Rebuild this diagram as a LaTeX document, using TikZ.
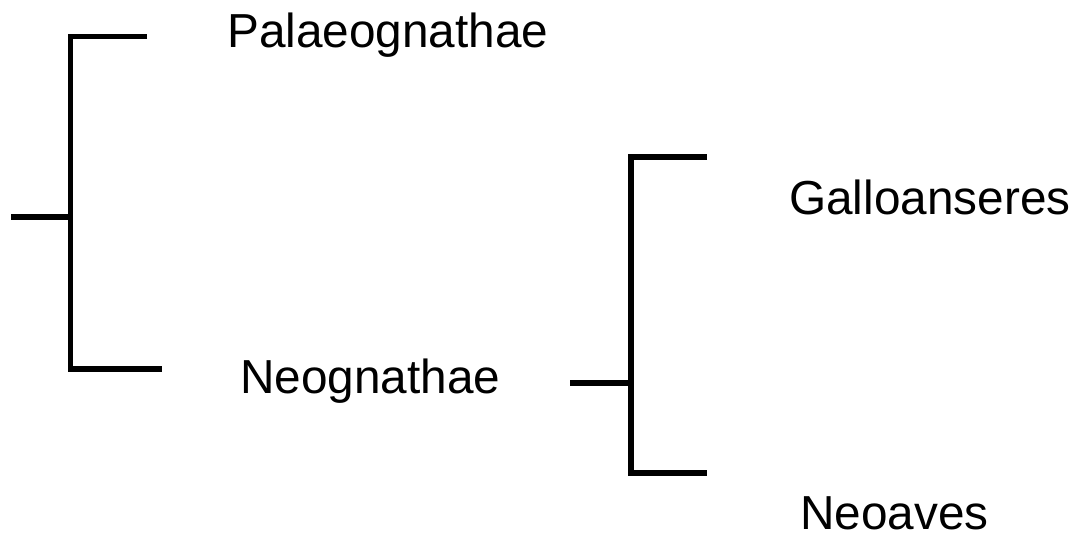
\documentclass[tikz,border=0pt]{standalone}
\usepackage{fontspec}
\setmainfont{Liberation Sans}
\begin{document}
\begin{tikzpicture}[x=0.75pt,y=-0.75pt,
  branch/.style={line width=3.8pt,line join=miter,line cap=butt},
  taxon/.style={anchor=base west,inner sep=0pt,font=\fontsize{35.8}{40}\selectfont}]
\useasboundingbox (0,0) rectangle (1075,536);
% labels
\node[taxon] (palaeo) at (227,47) {Palaeognathae};
\node[taxon] (neog) at (240,393) {Neognathae};
\node[taxon] (gallo) at (789,214) {Galloanseres};
\node[taxon] (neoaves) at (800,529) {Neoaves};
% left bracket
\coordinate (root) at (11,217);
\coordinate (rootj) at (70.5,217);
\coordinate (pt) at (147,36.5);
\coordinate (nt) at (162,369);
\draw[branch] (pt) -- (70.5,36.5) -- (70.5,369) -- (nt);
\draw[branch] (root) -- (rootj);
% right bracket
\coordinate (nroot) at (570,383);
\coordinate (nrootj) at (631,383);
\coordinate (gt) at (707,157);
\coordinate (at) at (707,473);
\draw[branch] (gt) -- (631,157) -- (631,473) -- (at);
\draw[branch] (nroot) -- (nrootj);
\end{tikzpicture}
\end{document}
